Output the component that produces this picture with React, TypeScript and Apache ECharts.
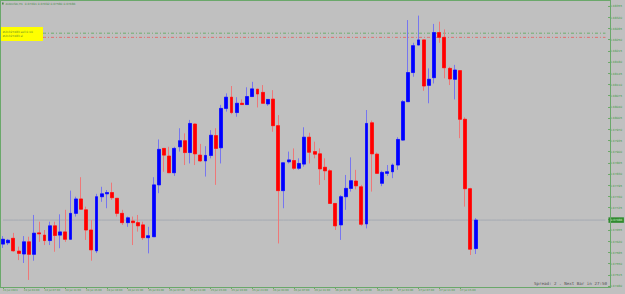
import React, { useEffect, useRef } from 'react';
import * as echarts from 'echarts';

const opens = [0.67611,0.67615,0.67629,0.67589,0.67580,0.67618,0.67579,0.67646,0.67639,0.67622,
0.67668,0.67639,0.67649,0.67626,0.67707,0.67752,0.67718,0.67655,0.67590,0.67759,
0.67768,0.67772,0.67754,0.67707,0.67678,0.67683,0.67678,0.67671,0.67631,0.67634,
0.67796,0.67910,0.67886,0.67834,0.67915,0.67934,0.67897,0.67986,0.67889,0.67871,
0.67888,0.67950,0.67912,0.68035,0.68070,0.68022,0.68051,0.68047,0.68072,0.68095,
0.68085,0.68049,0.68064,0.67981,0.67778,0.67868,0.67872,0.67848,0.67861,0.67945,
0.67900,0.67893,0.67851,0.67840,0.67738,0.67671,0.67759,0.67785,0.67808,0.67790,
0.67674,0.67990,0.67892,0.67801,0.67832,0.67837,0.67858,0.67936,0.68056,0.68147,
0.68233,0.68249,0.68107,0.68131,0.68272,0.68257,0.68160,0.68126,0.68153,0.68001,
0.67784,0.67597];

const closes = [0.67626,0.67623,0.67590,0.67582,0.67618,0.67579,0.67645,0.67643,0.67622,0.67668,
0.67638,0.67649,0.67626,0.67707,0.67752,0.67720,0.67655,0.67593,0.67759,0.67768,
0.67772,0.67756,0.67707,0.67678,0.67693,0.67678,0.67668,0.67631,0.67637,0.67796,
0.67907,0.67889,0.67834,0.67910,0.67934,0.67897,0.67988,0.67893,0.67871,0.67888,
0.67951,0.67910,0.68035,0.68070,0.68022,0.68051,0.68047,0.68072,0.68096,0.68080,
0.68051,0.68063,0.67981,0.67778,0.67865,0.67874,0.67848,0.67863,0.67945,0.67898,
0.67892,0.67846,0.67840,0.67738,0.67668,0.67759,0.67785,0.67809,0.67793,0.67673,
0.67988,0.67893,0.67832,0.67835,0.67837,0.67858,0.67938,0.68056,0.68147,0.68231,
0.68249,0.68105,0.68126,0.68272,0.68257,0.68162,0.68127,0.68155,0.68001,0.67784,
0.67595,0.67686];

const lows = [0.67599,0.67608,0.67587,0.67561,0.67552,0.67499,0.67559,0.67618,0.67608,0.67608,
0.67587,0.67598,0.67618,0.67624,0.67697,0.67718,0.67624,0.67559,0.67583,0.67743,
0.67723,0.67749,0.67697,0.67671,0.67665,0.67608,0.67650,0.67624,0.67582,0.67634,
0.67770,0.67837,0.67834,0.67824,0.67900,0.67858,0.67863,0.67858,0.67868,0.67822,
0.67879,0.67796,0.67863,0.68025,0.68017,0.68009,0.68046,0.68046,0.68072,0.68038,
0.68049,0.68043,0.67962,0.67613,0.67723,0.67863,0.67843,0.67843,0.67853,0.67863,
0.67879,0.67796,0.67811,0.67738,0.67655,0.67624,0.67718,0.67775,0.67782,0.67668,
0.67660,0.67775,0.67830,0.67792,0.67824,0.67817,0.67843,0.67934,0.68056,0.68134,
0.68233,0.68090,0.68051,0.68113,0.68240,0.68129,0.68108,0.68063,0.67942,0.67728,
0.67577,0.67580];

const highs = [0.67636,0.67627,0.67646,0.67603,0.67636,0.67634,0.67702,0.67681,0.67655,0.67681,
0.67681,0.67704,0.67718,0.67778,0.67759,0.67820,0.67728,0.67686,0.67768,0.67790,
0.67780,0.67803,0.67754,0.67718,0.67697,0.67697,0.67702,0.67681,0.67665,0.67820,
0.67938,0.67910,0.67915,0.67915,0.67973,0.67957,0.67999,0.67988,0.67924,0.67917,
0.67967,0.67973,0.68046,0.68082,0.68105,0.68070,0.68063,0.68101,0.68118,0.68095,
0.68108,0.68063,0.68092,0.68014,0.67865,0.67900,0.67910,0.67879,0.67976,0.67959,
0.67931,0.67910,0.67879,0.67845,0.67738,0.67764,0.67827,0.67882,0.67843,0.67796,
0.68030,0.67997,0.67897,0.67840,0.67858,0.67863,0.67945,0.68061,0.68311,0.68240,
0.68325,0.68249,0.68160,0.68299,0.68306,0.68282,0.68165,0.68171,0.68153,0.68007,
0.67787,0.67692];

const timeLabels = ['21 Jul 2023','24 Jul 03:00','24 Jul 07:00','24 Jul 11:00','24 Jul 15:00','24 Jul 19:00',
'24 Jul 23:00','25 Jul 03:00','25 Jul 07:00','25 Jul 11:00','25 Jul 15:00','25 Jul 19:00','25 Jul 23:00',
'26 Jul 03:00','26 Jul 07:00','26 Jul 11:00','26 Jul 15:00','26 Jul 19:00','26 Jul 23:00','27 Jul 03:00',
'27 Jul 07:00','27 Jul 11:00','27 Jul 15:00'];

const bidPrice = 0.67686;
const orderOpenPrice = 0.68270;
const orderSLPrice = 0.68257;
const yMin = 0.6748;
const yMax = 0.68355;
const yStep = 0.00035;
const emptySlots = 25;

const titleText = 'AUDUSD,H1  0.67691 0.67692 0.67580 0.67686';
const orderTexts = ['#21327483 sell 0.10', '#21327483 sl'];
const statusText = 'Spread: 2 . Next Bar in 27:50';

export default function App() {
  const ref = useRef<HTMLDivElement>(null);
  useEffect(() => {
    document.body.style.margin = '0';
    const chart = echarts.init(ref.current!, null, { renderer: 'svg' });
    const n = opens.length;
    const total = n + emptySlots;
    const cats: string[] = [];
    for (let i = 0; i < total; i++) cats.push(String(i));
    const full: any[] = [];
    const bodies: any[] = [];
    for (let i = 0; i < total; i++) {
      if (i < n) {
        full.push([opens[i], closes[i], lows[i], highs[i]]);
        bodies.push([opens[i], closes[i], Math.min(opens[i], closes[i]), Math.max(opens[i], closes[i])]);
      } else {
        full.push('-');
        bodies.push('-');
      }
    }
    const flat = (v: number) => cats.map(() => v);
    const showIdx = (i: number) => i % 4 === 0 && i < n;
    const green = '#6aa86a';
    const labelGreen = '#3f9a3f';
    const option: any = {
      animation: false,
      backgroundColor: '#c0c0c0',
      textStyle: { fontFamily: 'DejaVu Sans' },
      grid: { left: 0, right: 15, top: 6, bottom: 8 },
      xAxis: {
        type: 'category',
        data: cats,
        boundaryGap: true,
        offset: 1,
        axisLine: { show: false },
        axisTick: { show: true, alignWithLabel: true, interval: (i: number) => showIdx(i), length: 2, lineStyle: { color: green } },
        axisLabel: {
          interval: (i: number) => showIdx(i),
          formatter: (_v: string, i: number) => timeLabels[i / 4] || '',
          align: 'left',
          fontSize: 2.6,
          color: labelGreen,
          margin: 2,
        },
        splitLine: { show: false },
      },
      yAxis: {
        type: 'value',
        position: 'right',
        min: yMin,
        max: yMax,
        interval: yStep,
        axisLine: { show: false },
        axisTick: { show: true, length: 2, lineStyle: { color: green } },
        axisLabel: { formatter: (v: number) => v.toFixed(5), fontSize: 2.9, color: labelGreen, margin: 2, showMaxLabel: true, showMinLabel: true },
        splitLine: { show: false },
      },
      series: [
        {
          type: 'line',
          data: flat(bidPrice),
          showSymbol: false,
          silent: true,
          z: 1,
          lineStyle: { color: '#a4aab2', width: 1 },
          endLabel: {
            show: true,
            distance: 3,
            formatter: () => bidPrice.toFixed(5),
            fontSize: 2.9,
            color: '#d8f5d8',
            backgroundColor: '#2f8a2f',
            padding: [1.5, 1.5, 1, 2],
          },
        },
        {
          type: 'line',
          data: flat(orderOpenPrice),
          showSymbol: false,
          silent: true,
          z: 1,
          lineStyle: { color: '#6cae6c', type: [3, 2, 1, 2], width: 1 },
        },
        {
          type: 'line',
          data: flat(orderSLPrice),
          showSymbol: false,
          silent: true,
          z: 1,
          lineStyle: { color: '#e07070', type: [3, 2, 1, 2], width: 1 },
        },
        {
          type: 'candlestick',
          data: full,
          barWidth: 3.4,
          z: 2,
          itemStyle: { color: '#0000ff', color0: '#ff0000', borderColor: '#7676f0', borderColor0: '#ee7878', borderWidth: 1 },
        },
        {
          type: 'candlestick',
          data: bodies,
          barWidth: 3.4,
          z: 3,
          itemStyle: { color: '#0000ff', color0: '#ff0000', borderColor: '#0000ff', borderColor0: '#ff0000', borderWidth: 0.6 },
        },
      ],
      graphic: [
        { type: 'line', shape: { x1: 0, y1: 0.5, x2: 611, y2: 0.5 }, style: { stroke: green, lineWidth: 1 }, z: 50 },
        { type: 'line', shape: { x1: 0.5, y1: 0, x2: 0.5, y2: 288 }, style: { stroke: green, lineWidth: 1 }, z: 50 },
        { type: 'line', shape: { x1: 610.5, y1: 0, x2: 610.5, y2: 288 }, style: { stroke: green, lineWidth: 1 }, z: 50 },
        { type: 'line', shape: { x1: 0, y1: 287.5, x2: 611, y2: 287.5 }, style: { stroke: green, lineWidth: 1 }, z: 50 },
        { type: 'rect', shape: { x: 2, y: 2.5, width: 1.6, height: 2 }, style: { fill: '#4a8a4a' }, z: 50 },
        { type: 'text', x: 5.5, y: 1.8, style: { text: titleText, fontSize: 2.9, fill: '#4a8a4a', fontFamily: 'DejaVu Sans' }, z: 50 },
        { type: 'rect', shape: { x: 1, y: 27, width: 42, height: 14 }, style: { fill: '#ffff00' }, z: 60 },
        { type: 'text', x: 2.5, y: 29.8, style: { text: orderTexts[0], fontSize: 2.9, fill: '#5a8a2a', fontFamily: 'DejaVu Sans' }, z: 61 },
        { type: 'text', x: 2.5, y: 33.8, style: { text: orderTexts[1], fontSize: 2.9, fill: '#5a8a2a', fontFamily: 'DejaVu Sans' }, z: 61 },
        { type: 'text', right: 18, top: 281, style: { text: statusText, fontSize: 4.2, fill: '#505050', fontFamily: 'DejaVu Sans Mono' }, z: 50 },
      ],
    };
    chart.setOption(option);
    return () => chart.dispose();
  }, []);
  return <div ref={ref} style={{ width: 625, height: 294 }} />;
}
